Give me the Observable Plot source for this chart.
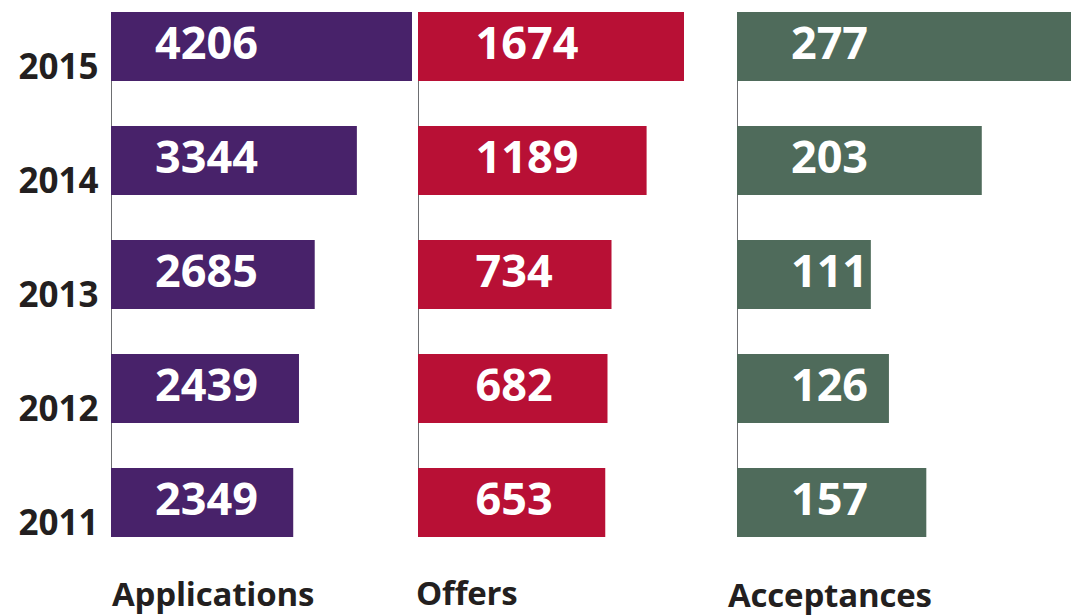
<!DOCTYPE html>
<html><head><meta charset="utf-8">
<script src="https://cdn.jsdelivr.net/npm/d3@7"></script>
<script src="https://cdn.jsdelivr.net/npm/@observablehq/plot@0.6"></script>
<style>
body{margin:0;background:#fff;}
#wrap{position:relative;width:1075px;height:616px;overflow:hidden;font-family:"Open Sans",sans-serif;background:#fff;}
.panel{position:absolute;top:0;}
.cat{position:absolute;font-weight:700;font-size:33px;line-height:33px;color:#231f20;white-space:nowrap;letter-spacing:-0.2px;}
</style></head><body><div id="wrap"></div>
<script>
const years = ["2015","2014","2013","2012","2011"];
const applications = [4206,3344,2685,2439,2349];
const offers = [1674,1189,734,682,653];
const acceptances = [277,203,111,126,157];
const categories = ["Applications","Offers","Acceptances"];
const colors = ["#48226a","#b81035","#4f6b5b"];

const wrap = document.getElementById("wrap");
const panels = [
  {values: applications, label: categories[0], color: colors[0], domain: [-500, 4206], left: 0, width: 415, ml: 111, mr: 3, dx: 95, anchor: "middle", years: true, labelLeft: 112, labelTop: 577},
  {values: offers, label: categories[1], color: colors[1], domain: [-1775, 1674], left: 415, width: 300, ml: 3, mr: 31, dx: 57, anchor: "start", years: false, labelLeft: 416, labelTop: 576},
  {values: acceptances, label: categories[2], color: colors[2], domain: [0, 277], left: 715, width: 360, ml: 22, mr: 4, dx: 92, anchor: "middle", years: false, labelLeft: 728, labelTop: 578}
];

for (const p of panels) {
  const data = years.map((y, i) => ({year: y, value: p.values[i]}));
  const lo = p.domain[0];
  const chart = Plot.plot({
    width: p.width, height: 545,
    marginTop: 12, marginBottom: 8, marginLeft: p.ml, marginRight: p.mr,
    x: {domain: p.domain, axis: null},
    y: {type: "band", domain: years, paddingInner: 0.395, paddingOuter: 0, axis: null},
    style: {fontFamily: "'Open Sans', sans-serif", background: "transparent", overflow: "visible"},
    marks: [
      Plot.ruleX([lo], {stroke: "#6d6e71", strokeWidth: 1}),
      Plot.barX(data, {y: "year", x1: () => lo, x2: "value", fill: p.color}),
      Plot.text(data, {y: "year", frameAnchor: "left", dx: p.dx, dy: -2, textAnchor: p.anchor, text: d => String(d.value), fill: "white", fontSize: 45, fontWeight: 700}),
      p.years ? Plot.axisY({tickSize: 0, tickPadding: 13, dy: 21, fontSize: 35, fontWeight: 700, fill: "#231f20", label: null}) : null
    ]
  });
  chart.classList.add("panel");
  chart.style.left = p.left + "px";
  wrap.appendChild(chart);
  const lab = document.createElement("div");
  lab.className = "cat";
  lab.textContent = p.label;
  lab.style.left = p.labelLeft + "px";
  lab.style.top = p.labelTop + "px";
  wrap.appendChild(lab);
}
</script>
</body></html>
